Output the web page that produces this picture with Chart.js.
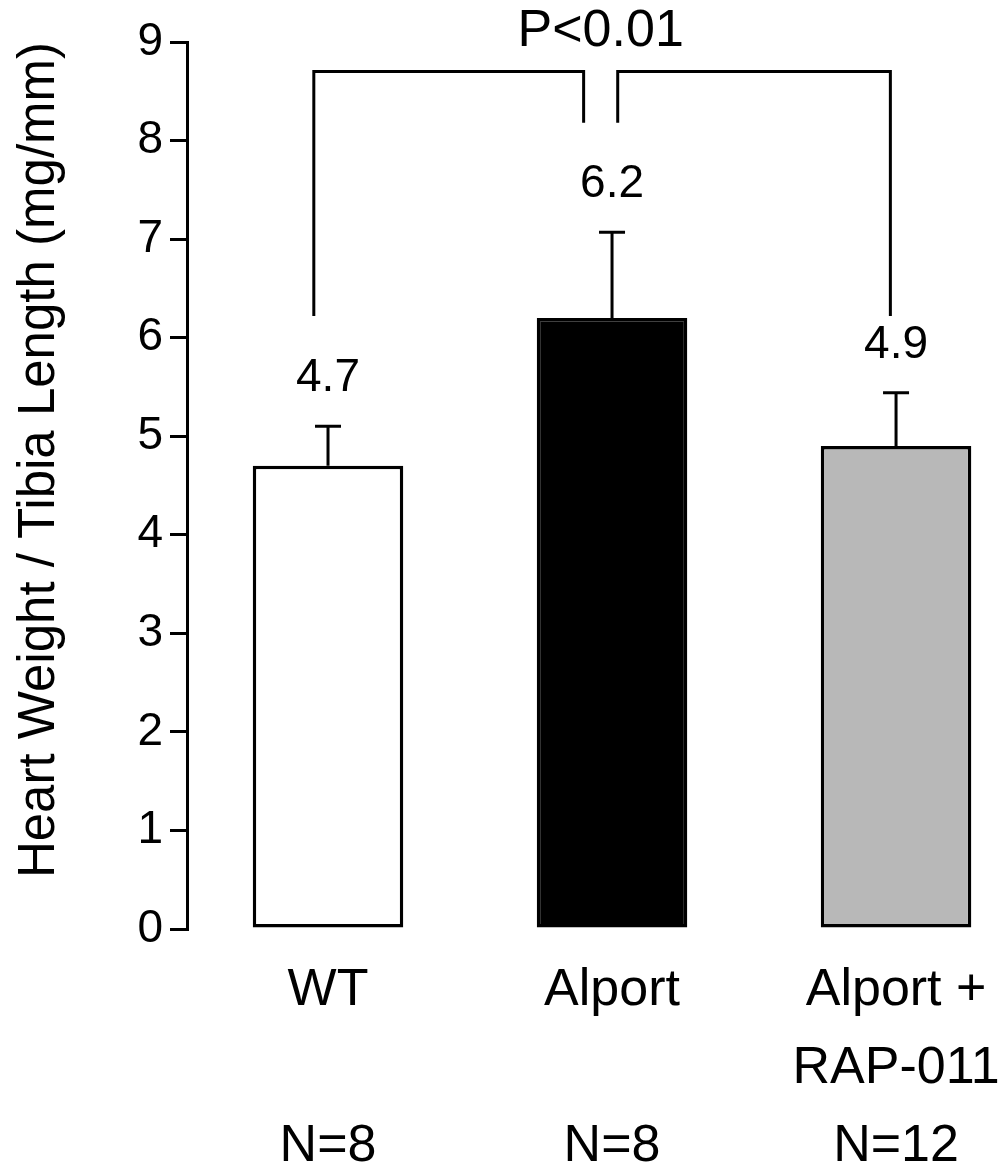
<!DOCTYPE html>
<html>
<head>
<meta charset="utf-8">
<script src="https://cdn.jsdelivr.net/npm/chart.js@4.4.0/dist/chart.umd.min.js"></script>
<style>
  html, body { margin: 0; padding: 0; background: #ffffff; overflow: hidden; }
  #wrap { width: 1006px; height: 1173px; }
</style>
</head>
<body>
<div id="wrap"><canvas id="chart"></canvas></div>
<script>
// datos
const groupNames = [["WT"], ["Alport"], ["Alport +", "RAP-011"]];
const sampleSizes = ["N=8", "N=8", "N=12"];
const means = [4.7, 6.2, 4.9];
const errorTops = [5.1, 7.07, 5.44];
const valueLabels = ["4.7", "6.2", "4.9"];
const barColors = ["#ffffff", "#000000", "#b8b8b8"];
const yTicks = [0, 1, 2, 3, 4, 5, 6, 7, 8, 9];

// corchete de significancia (en unidades de los ejes)
const bracketX = [-0.05, 0.9, 1.02, 1.98];
const bracketY = [6.22, 8.7, 8.18];
const pText = "P<0.01";

const FONT = "'Liberation Sans', Arial, sans-serif";

// barras de error, valores y corchete
const extras = {
  id: "extras",
  afterDatasetsDraw(chart) {
    const ctx = chart.ctx;
    const x = chart.scales.x;
    const y = chart.scales.y;
    ctx.save();
    ctx.strokeStyle = "#000";
    ctx.fillStyle = "#000";
    ctx.lineWidth = 3;
    ctx.lineCap = "butt";

    means.forEach((m, i) => {
      const cx = x.getPixelForValue(i);
      const yTop = y.getPixelForValue(errorTops[i]);
      const yMean = y.getPixelForValue(m);
      ctx.beginPath();
      ctx.moveTo(cx, yMean);
      ctx.lineTo(cx, yTop);
      ctx.moveTo(cx - 13, yTop);
      ctx.lineTo(cx + 13, yTop);
      ctx.stroke();

      ctx.font = "46px " + FONT;
      ctx.textAlign = "center";
      ctx.textBaseline = "middle";
      ctx.fillText(valueLabels[i], cx, yTop - 48);
    });

    // corchete
    const px = bracketX.map((v) => x.getPixelForValue(v));
    const yFoot = y.getPixelForValue(bracketY[0]);
    const yBar = y.getPixelForValue(bracketY[1]);
    const yInner = y.getPixelForValue(bracketY[2]);
    ctx.beginPath();
    ctx.moveTo(px[0], yFoot);
    ctx.lineTo(px[0], yBar);
    ctx.lineTo(px[1], yBar);
    ctx.lineTo(px[1], yInner);
    ctx.moveTo(px[2], yInner);
    ctx.lineTo(px[2], yBar);
    ctx.lineTo(px[3], yBar);
    ctx.lineTo(px[3], yFoot);
    ctx.stroke();

    ctx.font = "52px " + FONT;
    ctx.textAlign = "center";
    ctx.textBaseline = "middle";
    ctx.fillText(pText, (px[1] + px[2]) / 2, yBar - 40);
    ctx.restore();
  },
};

const ctx = document.getElementById("chart").getContext("2d");

new Chart(ctx, {
  type: "bar",
  data: {
    datasets: [
      {
        data: means.map((m, i) => ({ x: i, y: m })),
        backgroundColor: barColors,
        borderColor: "#000000",
        borderWidth: 3.5,
        borderSkipped: false,
        barPercentage: 0.53,
        categoryPercentage: 1,
      },
    ],
  },
  plugins: [extras],
  options: {
    responsive: true,
    maintainAspectRatio: false,
    animation: false,
    layout: { padding: { top: 42, right: 6, left: 0, bottom: 0 } },
    plugins: {
      legend: { display: false },
      tooltip: { enabled: false },
    },
    scales: {
      x: {
        type: "linear",
        offset: false,
        min: -0.4965,
        max: 2.366,
        grid: { display: false },
        border: { display: false },
        afterBuildTicks: (scale) => {
          scale.ticks = means.map((m, i) => ({ value: i }));
        },
        afterFit: (scale) => {
          scale.height = 244;
          // que las etiquetas no encojan el area del grafico
          scale.paddingLeft = 0;
          scale.paddingRight = 0;
        },
        ticks: {
          color: "#000",
          padding: 15,
          maxRotation: 0,
          autoSkip: false,
          font: { family: FONT, size: 52, lineHeight: 1.5 },
          callback: (v) => {
            const names = groupNames[v];
            const lines = names.length < 2 ? names.concat([""]) : names.slice();
            return lines.concat([sampleSizes[v]]);
          },
        },
      },
      y: {
        min: 0,
        max: 9,
        afterBuildTicks: (scale) => {
          scale.ticks = yTicks.map((t) => ({ value: t }));
        },
        afterFit: (scale) => {
          scale.width = 187;
        },
        grid: {
          drawOnChartArea: false,
          color: "#000",
          lineWidth: 3,
          tickLength: 17,
        },
        border: { display: true, color: "#000", width: 3 },
        ticks: {
          color: "#000",
          padding: 7,
          font: { family: FONT, size: 46 },
        },
        title: {
          display: true,
          align: "end",
          text: "Heart Weight / Tibia Length (mg/mm)",
          color: "#000",
          padding: { top: 9, bottom: 0 },
          font: { family: FONT, size: 51 },
        },
      },
    },
  },
});
</script>
</body>
</html>
